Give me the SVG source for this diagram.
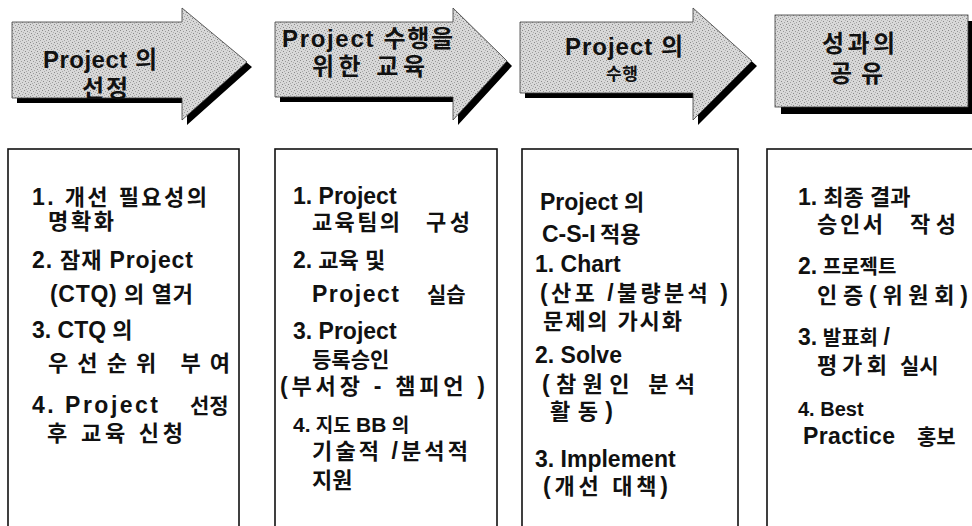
<svg xmlns="http://www.w3.org/2000/svg" width="972" height="526" viewBox="0 0 972 526">
<style>
.bg{fill:#ffffff}
.shadow{fill:#000000}
.shape{fill:url(#dither);stroke:#3a3a3a;stroke-width:0.8}
.box{fill:none;stroke:#111111;stroke-width:1.6}
.h{font-family:"Liberation Sans","Noto Sans CJK KR",sans-serif;font-weight:bold;font-size:24px;fill:#111111}
.t{font-family:"Liberation Sans","Noto Sans CJK KR",sans-serif;font-weight:bold;font-size:22px;fill:#111111}
.L{font-size:23px}
.s{font-size:21px}
</style>
<defs>
<pattern id="dither" width="6" height="6" patternUnits="userSpaceOnUse">
<rect width="6" height="6" fill="#d8d8d8"/>
<rect x="0" y="0" width="1" height="1" fill="#8a8a8a"/>
<rect x="3" y="1" width="1" height="1" fill="#9a9a9a"/>
<rect x="1" y="3" width="1" height="1" fill="#8a8a8a"/>
<rect x="4" y="4" width="1" height="1" fill="#a0a0a0"/>
<rect x="5" y="2" width="1" height="1" fill="#b0b0b0"/>
<rect x="2" y="5" width="1" height="1" fill="#aaaaaa"/>
</pattern>
</defs>
<rect class="bg" x="0" y="0" width="972" height="526"/>

<g id="stage1">
<path class="shadow" d="M17,27 H187 V13 L252,67 L187,125 V103 H17 Z"/>
<path class="shape" d="M12,22 H182 V8 L247,62 L182,120 V98 H12 Z"/>
<text class="h" x="43" y="68" textLength="114" lengthAdjust="spacing">Project 의</text>
<text class="h" x="82" y="97" textLength="46" lengthAdjust="spacing">선정</text>
</g>

<g id="stage2">
<path class="shadow" d="M280,27 H458 V13 L512,66 L458,125 V102 H280 Z"/>
<path class="shape" d="M275,22 H453 V8 L507,61 L453,120 V97 H275 Z"/>
<text class="h" x="282" y="47" textLength="171" lengthAdjust="spacing">Project 수행을</text>
<text class="h" x="312" y="75" textLength="113" lengthAdjust="spacing">위한 교육</text>
</g>

<g id="stage3">
<path class="shadow" d="M525,27 H698 V13 L757,66 L698,125 V98 H525 Z"/>
<path class="shape" d="M520,22 H693 V8 L752,61 L693,120 V93 H520 Z"/>
<text class="h" x="565" y="55" textLength="118" lengthAdjust="spacing">Project 의</text>
<text class="h" x="606" y="80" style="font-size:17px" textLength="32" lengthAdjust="spacing">수행</text>
</g>

<g id="stage4">
<rect class="shadow" x="781" y="21" width="200" height="93"/>
<rect class="shape" x="775" y="15" width="193" height="92"/>
<text class="h" x="822" y="52" textLength="73" lengthAdjust="spacing">성과의</text>
<text class="h" x="830" y="82" textLength="53" lengthAdjust="spacing">공유</text>
</g>

<g id="connectors"></g>

<g id="box1">
<rect class="box" x="8" y="149" width="231" height="400"/>
<text class="t" x="32" y="205" textLength="175" lengthAdjust="spacing"><tspan class="L">1.</tspan> 개선 필요성의</text>
<text class="t" x="48" y="229" textLength="66" lengthAdjust="spacing">명확화</text>
<text class="t" x="32" y="268" textLength="161" lengthAdjust="spacing"><tspan class="L">2.</tspan> 잠재 <tspan class="L">Project</tspan></text>
<text class="t" x="50" y="302" textLength="143" lengthAdjust="spacing"><tspan class="L">(CTQ)</tspan> 의 열거</text>
<text class="t" x="32" y="338"><tspan class="L">3. CTQ</tspan> 의</text>
<text class="t" x="48" y="371" textLength="182" lengthAdjust="spacing">우선순위 부여</text>
<text class="t L" x="32" y="413" textLength="126" lengthAdjust="spacing">4. Project</text>
<text class="t s" x="190" y="413">선정</text>
<text class="t" x="47" y="441" textLength="136" lengthAdjust="spacing">후 교육 신청</text>
</g>

<g id="box2">
<rect class="box" x="275" y="149" width="222" height="400"/>
<text class="t L" x="293" y="204">1. Project</text>
<text class="t" x="312" y="230" textLength="88" lengthAdjust="spacing">교육팀의</text>
<text class="t" x="426" y="230" textLength="44" lengthAdjust="spacing">구성</text>
<text class="t" x="293" y="268"><tspan class="L">2.</tspan> 교육 및</text>
<text class="t L" x="312" y="302" textLength="87" lengthAdjust="spacing">Project</text>
<text class="t s" x="427" y="302">실습</text>
<text class="t L" x="293" y="339">3. Project</text>
<text class="t s" x="312" y="367">등록승인</text>
<text class="t" x="280" y="394" textLength="205" lengthAdjust="spacing"><tspan class="L">(</tspan>부서장 <tspan class="L">-</tspan> 챔피언 <tspan class="L">)</tspan></text>
<text class="t" x="293" y="432" style="font-size:19px"><tspan style="font-size:21px">4.</tspan> 지도 <tspan style="font-size:21px">BB</tspan> 의</text>
<text class="t" x="312" y="459" textLength="156" lengthAdjust="spacing">기술적 <tspan class="L">/</tspan>분석적</text>
<text class="t" x="312" y="488">지원</text>
</g>

<g id="box3">
<rect class="box" x="522" y="149" width="216" height="400"/>
<text class="t" x="540" y="210"><tspan class="L">Project</tspan> 의</text>
<text class="t L" x="542" y="242">C-S-I</text>
<text class="t" x="600" y="242">적용</text>
<text class="t L" x="535" y="272">1. Chart</text>
<text class="t" x="540" y="301" textLength="188" lengthAdjust="spacing"><tspan class="L">(</tspan>산포 <tspan class="L">/</tspan>불량분석 <tspan class="L">)</tspan></text>
<text class="t" x="543" y="329" textLength="139" lengthAdjust="spacing">문제의 가시화</text>
<text class="t L" x="535" y="363">2. Solve</text>
<text class="t" x="542" y="392" textLength="153" lengthAdjust="spacing"><tspan class="L">(</tspan>참원인 분석</text>
<text class="t" x="550" y="419" textLength="63" lengthAdjust="spacing">활동<tspan class="L">)</tspan></text>
<text class="t L" x="535" y="467">3. Implement</text>
<text class="t" x="543" y="494" textLength="125" lengthAdjust="spacing"><tspan class="L">(</tspan>개선 대책<tspan class="L">)</tspan></text>
</g>

<g id="box4">
<rect class="box" x="767" y="149" width="220" height="400"/>
<text class="t" x="798" y="205"><tspan class="L">1.</tspan> 최종 결과</text>
<text class="t" x="817" y="232" textLength="66" lengthAdjust="spacing">승인서</text>
<text class="t" x="910" y="232" textLength="46" lengthAdjust="spacing">작성</text>
<text class="t" x="798" y="274" style="font-size:20px"><tspan class="L">2.</tspan> 프로젝트</text>
<text class="t" x="817" y="303" textLength="151" lengthAdjust="spacing">인증<tspan class="L">(</tspan>위원회<tspan class="L">)</tspan></text>
<text class="t" x="798" y="345" style="font-size:20px"><tspan class="L">3.</tspan> 발표회 <tspan class="L">/</tspan></text>
<text class="t" x="817" y="373" textLength="70" lengthAdjust="spacing">평가회</text>
<text class="t s" x="900" y="373">실시</text>
<text class="t" x="798" y="416" style="font-size:20px">4. Best</text>
<text class="t L" x="803" y="444" textLength="92" lengthAdjust="spacing">Practice</text>
<text class="t s" x="917" y="444">홍보</text>
</g>
</svg>
